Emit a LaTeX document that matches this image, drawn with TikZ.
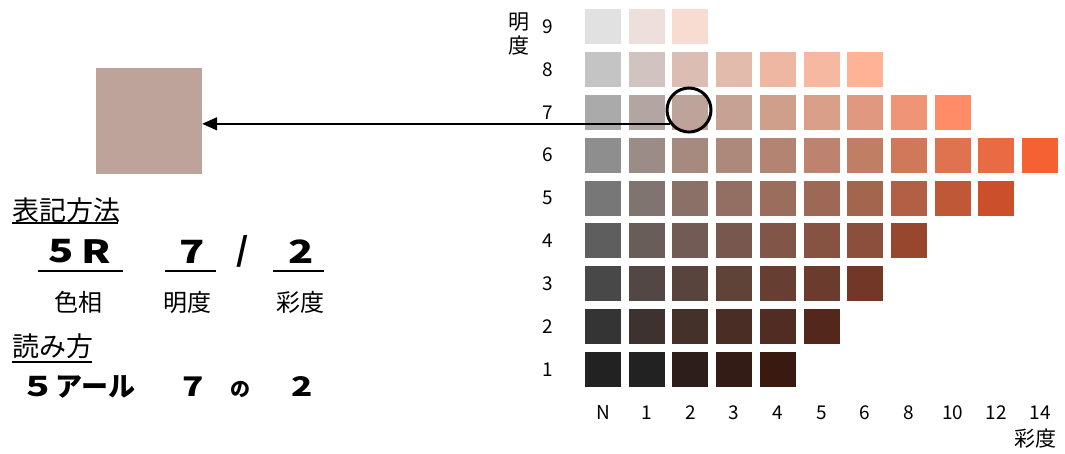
\documentclass[tikz,border=0pt]{standalone}
\usepackage{fontspec}
\setmainfont{Noto Sans CJK JP}
\usetikzlibrary{arrows.meta}
\newcommand{\wide}[1]{\scalebox{1.3}[1]{#1}}
\begin{document}
\begin{tikzpicture}[x=1pt,y=-1pt,
  sq/.style={minimum width=36pt,minimum height=35pt,inner sep=0pt,outer sep=0pt},
  lbl/.style={font=\fontsize{19}{19}\selectfont,inner sep=0pt},
  axlbl/.style={font=\fontsize{21}{24}\selectfont,inner sep=0pt,align=center},
  head/.style={font=\fontsize{27}{27}\selectfont,inner sep=0pt},
  big/.style={font=\fontsize{32}{32}\selectfont\bfseries,inner sep=0pt},
  med/.style={font=\fontsize{27}{27}\selectfont\bfseries,inner sep=0pt},
  sub/.style={font=\fontsize{24}{24}\selectfont,inner sep=0pt},
  uline/.style={line width=2pt},
  hline/.style={line width=1.5pt}]
\useasboundingbox (0,0) rectangle (1065,454);
\fill[white] (0,0) rectangle (1065,454);
% grid
\foreach \r/\c/\h in {
 9/0/E0E1E0, 9/1/EDDFDC, 9/2/F8DCD2,
 8/0/C4C4C4, 8/1/D1C3BF, 8/2/DBBDB4, 8/3/E3BBAD, 8/4/EEB7A2, 8/5/F6B8A0, 8/6/FFB396,
 7/0/AAAAAA, 7/1/B3A5A1, 7/2/BEA39A, 7/3/C6A294, 7/4/D09F8C, 7/5/D99F89, 7/6/E19881, 7/7/EF9477, 7/8/FF8C66,
 6/0/8E8E8E, 6/1/9C8C88, 6/2/A6897F, 6/3/AC897B, 6/4/B48472, 6/5/BD836F, 6/6/C07F65, 6/7/D0795A, 6/8/DF724F, 6/9/E96B44, 6/10/F66134,
 5/0/777777, 5/1/807470, 5/2/8B7068, 5/3/926F62, 5/4/9A6D5D, 5/5/9D6956, 5/6/A4654F, 5/7/B16045, 5/8/BF5837, 5/9/CB4F2A,
 4/0/5E5E5E, 4/1/685D59, 4/2/725B54, 4/3/78584E, 4/4/815548, 4/5/865242, 4/6/8B4F3D, 4/7/98472F,
 3/0/484848, 3/1/524745, 3/2/58443D, 3/3/5F4238, 3/4/663F32, 3/5/6B3B2E, 3/6/733727,
 2/0/343434, 2/1/3D3230, 2/2/44312A, 2/3/4A2E25, 2/4/502C22, 2/5/53271C,
 1/0/222222, 1/1/222222, 1/2/2D1E1B, 1/3/331C16, 1/4/381A10}{
  \definecolor{tmp}{HTML}{\h}
  \node[sq,fill=tmp] (s\r-\c) at ({603+43.7*\c},{26.5+42.9*(9-\r)}) {};
}
% row labels
\foreach \r in {1,...,9}
  \node[lbl] (r\r) at (548,{26.5+42.9*(9-\r)}) {\r};
% column labels
\foreach \t [count=\i from 0] in {N,1,2,3,4,5,6,8,10,12,14}
  \node[lbl] (c\i) at ({603+43.7*\i},413) {\t};
\node[axlbl] (vlab) at (519,34) {明\\度};
\node[axlbl] (clab) at (1035,439) {彩度};
% circle and swatch
\node[circle,draw,line width=3pt,minimum size=44pt,inner sep=0pt] (circ) at (689,110) {};
\definecolor{swc}{HTML}{BEA39A}
\node[fill=swc,minimum size=106pt,inner sep=0pt] (sw) at (149,121) {};
\coordinate (st) at (circ.216);
\draw[line width=1.6pt,-{Triangle[length=15pt,width=13pt]}] (st) -- (st -| sw.east);
% notation
\node[head,anchor=west] (h1) at (12,210) {表記方法};
\draw[hline] (12,223) -- (118,223);
\node[big] (n5) at (61.5,251.5) {\wide{5}};
\node[big] (nR) at (96,251.5) {\wide{R}};
\node[big] (n7) at (192,251.5) {\wide{7}};
\node[big] (nsl) at (243,251.5) {/};
\node[big] (n2) at (301,251.5) {\wide{2}};
\draw[uline] (38,271) -- (123,271);
\draw[uline] (165,271) -- (216,271);
\draw[uline] (273,271) -- (324,271);
\node[sub] (l1) at (78,302) {色相};
\node[sub] (l2) at (187,302) {明度};
\node[sub] (l3) at (300,302) {彩度};
% reading
\node[head,anchor=west] (h2) at (12,346) {読み方};
\draw[hline] (12,362) -- (92,362);
\node[med] (rd1) at (78,387) {\wide{５}アール};
\node[med] (rd2) at (193,387) {\wide{7}};
\node[font=\fontsize{20}{20}\selectfont\bfseries,inner sep=0pt] (rd3) at (240,389) {の};
\node[med] (rd4) at (302,387) {\wide{2}};
\end{tikzpicture}
\end{document}
